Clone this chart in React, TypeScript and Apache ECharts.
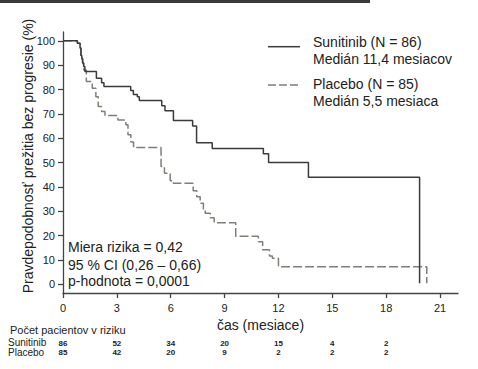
import React, { useEffect, useRef } from "react";
import * as echarts from "echarts";

const xTicks = [0, 3, 6, 9, 12, 15, 18, 21];
const yTicks = [0, 10, 20, 30, 40, 50, 60, 70, 80, 90, 100];
const riskTimes = [0, 3, 6, 9, 12, 15, 18];
const sunitinibAtRisk = [86, 52, 34, 20, 15, 4, 2];
const placeboAtRisk = [85, 42, 20, 9, 2, 2, 2];

const sunitinibCurve: [number, number][] = [
  [0, 100], [0.8, 99], [0.95, 97], [1.0, 94], [1.05, 92.5], [1.1, 90.8], [1.15, 89.4],
  [1.22, 87.4], [1.86, 84.6], [2.15, 82.8], [2.28, 81.2], [3.77, 79.6], [3.92, 78],
  [4.14, 77], [4.25, 75.5], [5.5, 73.3], [5.68, 71.3], [6.15, 67.3], [7.22, 65],
  [7.44, 58.2], [8.31, 55.8], [11.16, 53.6], [11.45, 50], [13.67, 44], [19.86, 0.5],
];

const placeboCurve: [number, number][] = [
  [0, 100], [0.8, 99], [0.95, 97], [1.0, 94], [1.08, 91], [1.15, 88], [1.3, 83.3],
  [1.63, 80.5], [1.83, 77], [1.96, 73], [2.15, 71], [2.34, 69.3], [3.06, 67.5],
  [3.5, 65.5], [3.62, 61.4], [3.78, 58.5], [3.93, 56.2], [5.46, 48.4], [5.65, 45.6],
  [5.97, 42.6], [6.15, 41.5], [7.25, 38.5], [7.45, 36], [7.64, 33.3], [7.82, 31],
  [7.92, 29.2], [8.2, 27.4], [8.42, 25.3], [9.62, 19.8], [10.88, 17.5], [11.12, 14.2],
  [11.5, 11.7], [11.66, 10.8], [12.0, 7.3], [20.26, 0.5],
];

const FONT = "Liberation Sans, Arial, sans-serif";
const AXIS_COLOR = "#444";
const TEXT_COLOR = "#222";

export default function App() {
  const ref = useRef<HTMLDivElement>(null);
  useEffect(() => {
    document.body.style.margin = "0";
    if (!ref.current) return;
    const chart = echarts.init(ref.current, undefined, { renderer: "svg" });
    const riskAxis = (offset: number, values: number[]) => ({
      type: "value",
      gridIndex: 0,
      min: 0,
      max: 22,
      position: "bottom",
      offset,
      axisLine: { show: false },
      axisTick: { show: false },
      splitLine: { show: false },
      axisLabel: {
        customValues: riskTimes,
        margin: 0,
        fontSize: 8,
        fontWeight: "bold",
        fontFamily: FONT,
        color: TEXT_COLOR,
        formatter: (v: number) => String(values[Math.round(v / 3)]),
      },
    });
    chart.setOption({
      animation: false,
      grid: { left: 63, right: 20, top: 32, bottom: 76 },
      xAxis: [
        {
          type: "value",
          min: 0,
          max: 22,
          name: "čas (mesiace)",
          nameLocation: "middle",
          nameGap: 20,
          nameTextStyle: { fontSize: 14, fontFamily: FONT, color: TEXT_COLOR },
          axisLine: { onZero: false, lineStyle: { color: AXIS_COLOR, width: 1.3 } },
          axisTick: { customValues: xTicks, length: 5, lineStyle: { color: AXIS_COLOR, width: 1.3 } },
          axisLabel: { customValues: xTicks, margin: 9, fontSize: 11, fontFamily: FONT, color: TEXT_COLOR },
          splitLine: { show: false },
        },
        riskAxis(46, sunitinibAtRisk),
        riskAxis(55.5, placeboAtRisk),
      ],
      yAxis: {
        type: "value",
        min: -3.5,
        max: 103.6,
        axisLine: { show: true, lineStyle: { color: AXIS_COLOR, width: 1.3 } },
        axisTick: { show: true, customValues: yTicks, length: 5, lineStyle: { color: AXIS_COLOR, width: 1.3 } },
        axisLabel: { customValues: yTicks, margin: 8, fontSize: 11, fontFamily: FONT, color: TEXT_COLOR },
        splitLine: { show: false },
      },
      series: [
        {
          name: "Sunitinib",
          type: "line",
          step: "end",
          symbol: "none",
          data: sunitinibCurve,
          lineStyle: { color: "#3a3a3a", width: 1.5 },
          z: 3,
        },
        {
          name: "Placebo",
          type: "line",
          step: "end",
          symbol: "none",
          data: placeboCurve,
          lineStyle: { color: "#7f7f77", width: 1.5, type: [9, 3] },
          z: 2,
        },
      ],
      graphic: [
        { type: "rect", shape: { x: 0, y: 0, width: 370, height: 3 }, style: { fill: "#3a3a3a" } },
        {
          type: "text",
          x: 27.5,
          y: 156,
          rotation: Math.PI / 2,
          style: {
            text: "Pravdepodobnosť prežitia bez progresie (%)",
            font: `14px ${FONT}`,
            fill: TEXT_COLOR,
            align: "center",
            verticalAlign: "middle",
          },
        },
        { type: "line", shape: { x1: 268, y1: 46.7, x2: 300, y2: 46.7 }, style: { stroke: "#3a3a3a", lineWidth: 1.5 } },
        { type: "line", shape: { x1: 268, y1: 85, x2: 300, y2: 85 }, style: { stroke: "#7f7f77", lineWidth: 1.5, lineDash: [8, 3] } },
        { type: "text", x: 313, y: 42, style: { text: "Sunitinib (N = 86)", font: `14px ${FONT}`, fill: TEXT_COLOR, verticalAlign: "middle" } },
        { type: "text", x: 313, y: 58.5, style: { text: "Medián 11,4 mesiacov", font: `14px ${FONT}`, fill: TEXT_COLOR, verticalAlign: "middle" } },
        { type: "text", x: 313, y: 83.5, style: { text: "Placebo (N = 85)", font: `14px ${FONT}`, fill: TEXT_COLOR, verticalAlign: "middle" } },
        { type: "text", x: 313, y: 100.5, style: { text: "Medián 5,5 mesiaca", font: `14px ${FONT}`, fill: TEXT_COLOR, verticalAlign: "middle" } },
        { type: "text", x: 68, y: 247, style: { text: "Miera rizika = 0,42", font: `14px ${FONT}`, fill: TEXT_COLOR, verticalAlign: "middle" } },
        { type: "text", x: 68, y: 264.5, style: { text: "95 % CI (0,26 – 0,66)", font: `14px ${FONT}`, fill: TEXT_COLOR, verticalAlign: "middle" } },
        { type: "text", x: 68, y: 280.5, style: { text: "p-hodnota = 0,0001", font: `14px ${FONT}`, fill: TEXT_COLOR, verticalAlign: "middle" } },
        { type: "text", x: 10, y: 330, style: { text: "Počet pacientov v riziku", font: `11px ${FONT}`, fill: TEXT_COLOR, verticalAlign: "middle" } },
        { type: "text", x: 8, y: 342.5, style: { text: "Sunitinib", font: `10px ${FONT}`, fill: TEXT_COLOR, verticalAlign: "middle" } },
        { type: "text", x: 8, y: 352.5, style: { text: "Placebo", font: `10px ${FONT}`, fill: TEXT_COLOR, verticalAlign: "middle" } },
      ],
    });
    return () => chart.dispose();
  }, []);
  return (
    <div
      ref={ref}
      style={{ position: "absolute", left: 0, top: 0, width: 478, height: 369, background: "#fff" }}
    />
  );
}
